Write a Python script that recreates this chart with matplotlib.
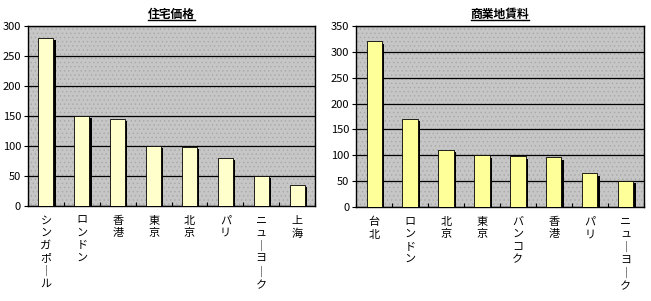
import matplotlib
matplotlib.use('Agg')
import matplotlib.pyplot as plt
import matplotlib.patheffects as pe
from matplotlib.patches import Rectangle
import numpy as np

plt.rcParams['font.family'] = ['Noto Sans CJK JP', 'DejaVu Sans']
plt.rcParams['hatch.linewidth'] = 0.5

# data
housing_title = '住宅価格'
housing_cities = ['シンガポール', 'ロンドン', '香港', '東京', '北京', 'パリ', 'ニューヨーク', '上海']
housing_values = [280, 150, 145, 100, 98, 80, 50, 35]

office_title = '商業地賃料'
office_cities = ['台北', 'ロンドン', '北京', '東京', 'バンコク', '香港', 'パリ', 'ニューヨーク']
office_values = [320, 170, 110, 100, 98, 96, 65, 50]


def vertical(label):
	# stack characters top to bottom, long vowel mark turns upright
	return '\n'.join('｜' if c == 'ー' else c for c in label)


def draw_panel(ax, title, cities, values, ymax, bar_color):
	n = len(cities)
	x = np.arange(n)

	ax.set_facecolor('#c6c6c6')
	# dotted fill like the old spreadsheet pattern
	ax.add_patch(Rectangle((0, 0), 1, 1, transform=ax.transAxes, facecolor='none',
		edgecolor='#a8a8a8', hatch='....', linewidth=0, zorder=0))

	bars = ax.bar(x, values, width=0.42, color=bar_color, edgecolor='black',
		linewidth=0.6, zorder=3)
	for b in bars:
		b.set_path_effects([pe.SimplePatchShadow(offset=(1.6, -1.6), shadow_rgbFace='black', alpha=1.0),
			pe.Normal()])

	ax.set_xlim(-0.5, n - 0.5)
	ax.set_ylim(0, ymax)
	ax.set_yticks(np.arange(0, ymax + 1, 50))
	ax.yaxis.grid(True, color='black', linewidth=0.9, zorder=1)
	ax.set_axisbelow(True)

	ax.set_xticks(x)
	ax.set_xticklabels([vertical(c) for c in cities], fontsize=8, linespacing=1.3,
		va='top')
	ax.set_xticks(np.arange(n + 1) - 0.5, minor=True)
	ax.tick_params(axis='x', which='major', length=0, pad=7)
	ax.tick_params(axis='x', which='minor', length=3, width=0.8, direction='in')
	ax.tick_params(axis='y', length=3, width=0.8, labelsize=8, pad=2)

	for s in ax.spines.values():
		s.set_linewidth(1.0)
		s.set_color('black')

	ax.set_title(title, fontsize=8.5, fontweight='bold', pad=6)


fig = plt.figure(figsize=(6.51, 3.01), dpi=100)

ax1 = fig.add_axes([0.043, 0.316, 0.441, 0.598])
draw_panel(ax1, housing_title, housing_cities, housing_values, 300, '#ffffcc')

ax2 = fig.add_axes([0.547, 0.312, 0.442, 0.602])
draw_panel(ax2, office_title, office_cities, office_values, 350, '#ffff99')

# underline the titles
fig.canvas.draw()
for ax in (ax1, ax2):
	bb = ax.title.get_window_extent().transformed(fig.transFigure.inverted())
	fig.add_artist(plt.Line2D([bb.x0, bb.x1], [bb.y0 + 0.002, bb.y0 + 0.002],
		color='black', linewidth=1.0, transform=fig.transFigure))

fig.savefig('out.png', dpi=100)
